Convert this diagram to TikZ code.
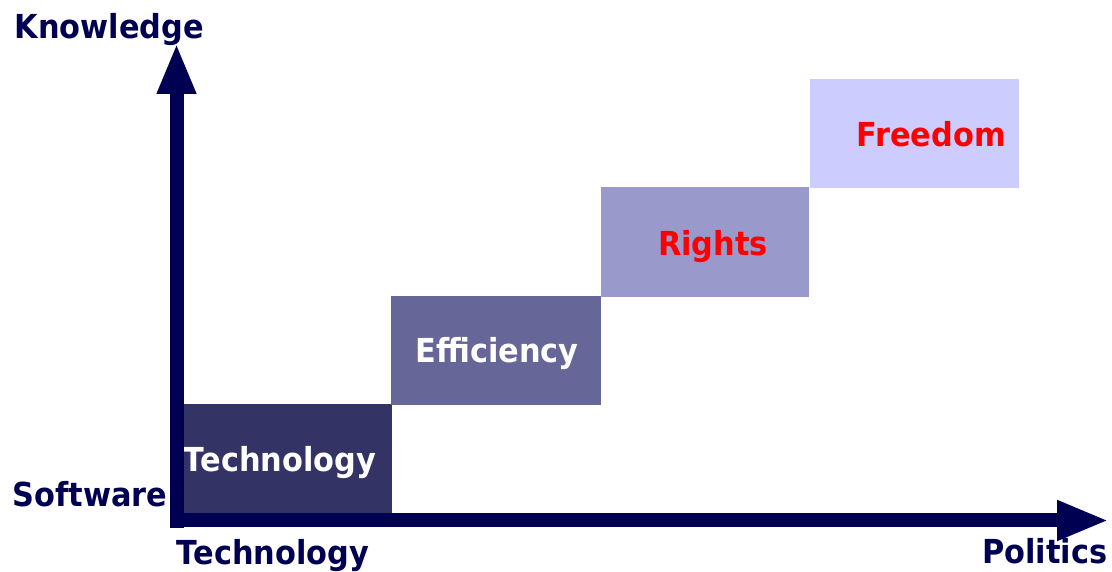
\documentclass[tikz,border=0pt]{standalone}
\usepackage{fontspec}
\setmainfont{DejaVu Sans}[FakeStretch=0.92]
\usepackage{tikz}
\usetikzlibrary{arrows.meta}
\usepackage{xcolor}

\definecolor{axisblue}{RGB}{0,0,82}
\definecolor{stepA}{RGB}{51,51,102}
\definecolor{stepB}{RGB}{102,102,153}
\definecolor{stepC}{RGB}{153,153,204}
\definecolor{stepD}{RGB}{204,204,255}

\tikzset{
  axis/.style={draw=axisblue,line width=0.14cm},
  word/.style={font=\fontsize{9.4}{11}\selectfont\bfseries,inner sep=0pt,anchor=base},
  axislabel/.style={word,text=axisblue}
}

\begin{document}
\begin{tikzpicture}
\useasboundingbox (0,0) rectangle (11.12,5.72);
% the four steps
\fill[stepA] (1.83,0.59) rectangle (3.92,1.68);
\fill[stepB] (3.91,1.67) rectangle (6.01,2.76);
\fill[stepC] (6.01,2.75) rectangle (8.09,3.85);
\fill[stepD] (8.10,3.84) rectangle (10.19,4.93);
\node[word,text=white] (tech) at (2.80,1.00) {Technology};
\node[word,text=white] (eff) at (4.97,2.09) {Efficiency};
\node[word,text=red] (rights) at (7.13,3.16) {Rights};
\node[word,text=red] (free) at (9.31,4.25) {Freedom};
% axes
\coordinate (origin) at (1.765,0.44);
\coordinate (xstart) at (1.70,0.515);
\coordinate (ytip) at (1.765,5.29);
\coordinate (xtip) at (11.09,0.515);
\draw[axis,-{Triangle[length=0.51cm,width=0.36cm]}] (origin) -- (ytip);
\draw[axis,-{Triangle[length=0.52cm,width=0.37cm]}] (xstart) -- (xtip);
\node[axislabel,anchor=base west] (know) at (0.14,5.33) {Knowledge};
\node[axislabel,anchor=base west] (soft) at (0.12,0.65) {Software};
\node[axislabel,anchor=base west] (techaxis) at (1.76,0.07) {Technology};
\node[axislabel,anchor=base east] (pol) at (11.08,0.08) {Politics};
\end{tikzpicture}
\end{document}
